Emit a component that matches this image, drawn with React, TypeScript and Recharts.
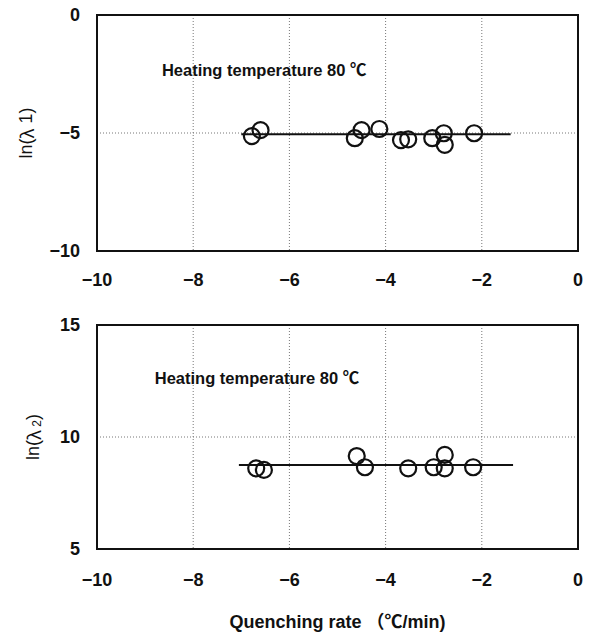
import {
  ScatterChart,
  Scatter,
  XAxis,
  YAxis,
  CartesianGrid,
  ReferenceArea,
  ReferenceLine,
  ReferenceDot,
} from 'recharts';

// quenching rate (°C/min) on x, ln(lambda) on y
const xTicks = [-10, -8, -6, -4, -2, 0];
const topYTicks = [-10, -5, 0];
const bottomYTicks = [5, 10, 15];

const rateTop = [-6.78, -6.6, -4.64, -4.5, -4.13, -3.68, -3.53, -3.03, -2.79, -2.77, -2.16];
const lambda1 = [-5.13, -4.88, -5.22, -4.88, -4.83, -5.3, -5.27, -5.22, -5.01, -5.5, -5.01];

const rateBottom = [-6.69, -6.53, -4.6, -4.43, -3.53, -3.0, -2.77, -2.77, -2.18];
const lambda2 = [8.6, 8.53, 9.15, 8.65, 8.6, 8.65, 9.2, 8.6, 8.65];

const fitRangeTop = [-7.0, -1.4];
const fitTop = -5.05;
const fitRangeBottom = [-7.05, -1.35];
const fitBottom = 8.75;

const topPoints = rateTop.map((x, i) => ({ x, y: lambda1[i] }));
const bottomPoints = rateBottom.map((x, i) => ({ x, y: lambda2[i] }));

const FONT = '"Liberation Sans", Arial, "Noto Sans CJK JP", sans-serif';
const CJK = '"Noto Sans CJK JP", sans-serif';
const INK = '#111';
const tickStyle = { fill: INK, fontSize: 18, fontWeight: 700, fontFamily: FONT };
// the original uses a long minus sign
const fmt = (v: number) => (v < 0 ? `\u2212${Math.abs(v)}` : `${v}`);

function Ring(props: any) {
  const { cx, cy } = props;
  return <circle cx={cx} cy={cy} r={8} fill="none" stroke={INK} strokeWidth={2.2} />;
}

// ln(λ n) with a full-width lambda, like the Japanese original
function YLabel({ viewBox, n, subscript, cx }: any) {
  const cy = viewBox.y + viewBox.height / 2;
  return (
    <text
      x={cx}
      y={cy}
      transform={`rotate(-90 ${cx} ${cy})`}
      textAnchor="middle"
      dominantBaseline="central"
      fill={INK}
      fontSize={18}
      fontFamily={FONT}
    >
      ln(
      <tspan fontFamily={CJK}>λ</tspan>
      {subscript ? (
        <>
          <tspan fontSize={12} dy={4}>
            {' ' + n}
          </tspan>
          <tspan dy={-4}>)</tspan>
        </>
      ) : (
        <tspan>{' ' + n + ')'}</tspan>
      )}
    </text>
  );
}

function Note({ viewBox }: any) {
  return (
    <text
      x={viewBox.x}
      y={viewBox.y}
      fill={INK}
      fontSize={16.5}
      fontWeight={700}
      fontFamily={FONT}
      dominantBaseline="central"
    >
      Heating temperature 80 ℃
    </text>
  );
}

function TopChart() {
  return (
    <ScatterChart width={596} height={300} margin={{ top: 15, right: 18, bottom: 19, left: 0 }}>
      <CartesianGrid stroke="#777" strokeDasharray="1 2" />
      <XAxis
        type="number"
        dataKey="x"
        domain={[-10, 0]}
        ticks={xTicks}
        tickFormatter={fmt}
        axisLine={false}
        tickLine={false}
        tickSize={0}
        tickMargin={22}
        height={30}
        tick={tickStyle}
      />
      <YAxis
        type="number"
        dataKey="y"
        domain={[-10, 0]}
        ticks={topYTicks}
        tickFormatter={fmt}
        axisLine={false}
        tickLine={false}
        tickSize={0}
        tickMargin={17}
        width={97}
        tick={tickStyle}
        label={<YLabel n="1" cx={26} />}
      />
      <ReferenceArea x1={-10} x2={0} y1={-10} y2={0} fill="none" stroke={INK} strokeWidth={2} />
      <ReferenceLine
        segment={[
          { x: fitRangeTop[0], y: fitTop },
          { x: fitRangeTop[1], y: fitTop },
        ]}
        stroke={INK}
        strokeWidth={2}
      />
      <ReferenceDot x={-8.65} y={-2.33} r={0} label={<Note />} />
      <Scatter data={topPoints} shape={<Ring />} isAnimationActive={false} />
    </ScatterChart>
  );
}

function BottomChart() {
  return (
    <ScatterChart width={596} height={337} margin={{ top: 25, right: 18, bottom: 0, left: 0 }}>
      <CartesianGrid stroke="#777" strokeDasharray="1 2" />
      <XAxis
        type="number"
        dataKey="x"
        domain={[-10, 0]}
        ticks={xTicks}
        tickFormatter={fmt}
        axisLine={false}
        tickLine={false}
        tickSize={0}
        tickMargin={24}
        height={88}
        tick={tickStyle}
        label={{
          value: 'Quenching rate （℃/min)',
          position: 'insideBottom',
          offset: 9,
          fill: INK,
          fontSize: 18,
          fontWeight: 700,
          fontFamily: FONT,
        }}
      />
      <YAxis
        type="number"
        dataKey="y"
        domain={[5, 15]}
        ticks={bottomYTicks}
        tickFormatter={fmt}
        axisLine={false}
        tickLine={false}
        tickSize={0}
        tickMargin={17}
        width={97}
        tick={tickStyle}
        label={<YLabel n="2" subscript cx={33} />}
      />
      <ReferenceArea x1={-10} x2={0} y1={5} y2={15} fill="none" stroke={INK} strokeWidth={2} />
      <ReferenceLine
        segment={[
          { x: fitRangeBottom[0], y: fitBottom },
          { x: fitRangeBottom[1], y: fitBottom },
        ]}
        stroke={INK}
        strokeWidth={2}
      />
      <ReferenceDot x={-8.8} y={12.65} r={0} label={<Note />} />
      <Scatter data={bottomPoints} shape={<Ring />} isAnimationActive={false} />
    </ScatterChart>
  );
}

export default function App() {
  return (
    <div style={{ position: 'absolute', left: 0, top: 0, width: 596, height: 637, background: '#fff' }}>
      <div style={{ position: 'absolute', left: 0, top: 0 }}>
        <TopChart />
      </div>
      <div style={{ position: 'absolute', left: 0, top: 300 }}>
        <BottomChart />
      </div>
    </div>
  );
}
